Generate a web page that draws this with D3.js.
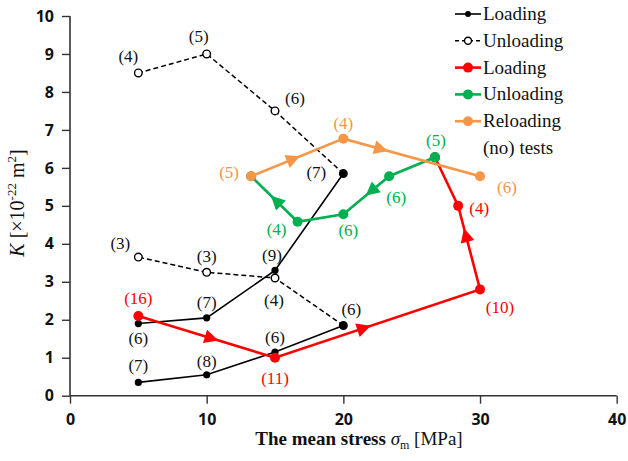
<!DOCTYPE html>
<html><head><meta charset="utf-8">
<script src="https://cdn.jsdelivr.net/npm/d3@7"></script>
<style>
body{margin:0;background:#fff;}
svg{display:block;}
text{font-family:"Liberation Serif","Times New Roman",serif;}
.tick text{font-family:"Open Sans",sans-serif;font-weight:700;}
</style></head>
<body><svg id="c" width="628" height="461"></svg>
<script>
// ---- data ----
const xTicks = [0, 10, 20, 30, 40];
const yTicks = [0, 1, 2, 3, 4, 5, 6, 7, 8, 9, 10];

const blackLoad1X = [5, 10, 15, 20];
const blackLoad1Y = [0.35, 0.55, 1.15, 1.85];
const blackLoad1N = ["(7)", "(8)", "(6)", "(6)"];

const blackLoad2X = [5, 10, 15, 20];
const blackLoad2Y = [1.9, 2.05, 3.3, 5.85];
const blackLoad2N = ["(6)", "(7)", "(9)", "(7)"];

const blackUnload1X = [20, 15, 10, 5];
const blackUnload1Y = [5.85, 7.5, 9.0, 8.5];
const blackUnload1N = [null, "(6)", "(5)", "(4)"];

const blackUnload2X = [20, 15, 10, 5];
const blackUnload2Y = [1.85, 3.1, 3.25, 3.65];
const blackUnload2N = [null, "(4)", "(3)", "(3)"];

const redLoadX = [5, 15, 30, 28.4, 26.7];
const redLoadY = [2.1, 1.0, 2.8, 5.0, 6.28];
const redLoadN = ["(16)", "(11)", "(10)", "(4)", null];

const greenUnloadX = [26.7, 23.35, 20, 16.65, 13.25];
const greenUnloadY = [6.28, 5.78, 4.78, 4.58, 5.78];
const greenUnloadN = ["(5)", "(6)", "(6)", "(4)", null];

const orangeReloadX = [13.25, 20, 30];
const orangeReloadY = [5.78, 6.77, 5.78];
const orangeReloadN = ["(5)", "(4)", "(6)"];

const legendLabels = ["Loading", "Unloading", "Loading", "Unloading", "Reloading", "(no) tests"];

// ---- layout / style ----
const svg = d3.select("#c");
const x = d3.scaleLinear().domain([0, 40]).range([70, 616.7]);
const y = d3.scaleLinear().domain([0, 10]).range([395.7, 16]);
const C = {black:"#000", red:"#ff0000", green:"#00b050", orange:"#f79646"};

// axes
const axisColor = "#333";
const gx = svg.append("g").attr("transform", "translate(0,395.7)")
  .call(d3.axisBottom(x).tickValues(xTicks).tickSize(8).tickPadding(10));
const gy = svg.append("g").attr("transform", "translate(70,0)")
  .call(d3.axisLeft(y).tickValues(yTicks).tickSize(8).tickPadding(8));
[gx, gy].forEach(g => {
  g.select(".domain").attr("stroke", axisColor).attr("stroke-width", 1.6);
  g.selectAll(".tick line").attr("stroke", axisColor).attr("stroke-width", 1.4);
  g.selectAll(".tick text").attr("fill", "#111").attr("font-size", 16);
});
gy.select(".domain").attr("d", "M0,16V395.7");
gx.select(".domain").attr("d", "M70,0H616.7");

// axis titles
const xt = svg.append("text").attr("x", 359).attr("y", 445).attr("text-anchor", "middle")
  .attr("font-size", 19).attr("fill", "#111");
xt.append("tspan").attr("font-weight", 700).text("The mean stress ");
xt.append("tspan").attr("font-style", "italic").text("σ");
xt.append("tspan").attr("font-size", 12).attr("dy", 4).text("m");
xt.append("tspan").attr("dy", -4).text(" [MPa]");

const yt = svg.append("text").attr("transform", "translate(24,203) rotate(-90)")
  .attr("text-anchor", "middle").attr("font-size", 20).attr("fill", "#111");
yt.append("tspan").attr("font-style", "italic").text("K");
yt.append("tspan").text(" [×10");
yt.append("tspan").attr("font-size", 13).attr("dy", -8).text("-22");
yt.append("tspan").attr("dy", 8).text(" m");
yt.append("tspan").attr("font-size", 13).attr("dy", -8).text("2");
yt.append("tspan").attr("dy", 8).text("]");

const line = d3.line().x(d => x(d[0])).y(d => y(d[1]));
function pts(xs, ys){ return xs.map((v,i)=>[v, ys[i]]); }

function series(xs, ys, color, opts){
  const p = pts(xs, ys);
  svg.append("path").attr("d", line(p)).attr("fill", "none").attr("stroke", color)
    .attr("stroke-width", opts.w).attr("stroke-dasharray", opts.dash || null);
  svg.selectAll(null).data(p).enter().append("circle")
    .attr("cx", d => x(d[0])).attr("cy", d => y(d[1])).attr("r", opts.r)
    .attr("fill", opts.open ? "#fff" : color).attr("stroke", color)
    .attr("stroke-width", opts.open ? 1.4 : 0);
  return p;
}

function labels(xs, ys, names, color, offs){
  names.forEach((n, i) => {
    if (!n) return;
    svg.append("text").attr("x", x(xs[i]) + offs[i][0]).attr("y", y(ys[i]) + offs[i][1] + 6)
      .attr("text-anchor", "middle").attr("font-size", 17).attr("fill", color).text(n);
  });
}

function arrow(xs, ys, seg, t, color){
  const x0 = x(xs[seg]), y0 = y(ys[seg]), x1 = x(xs[seg+1]), y1 = y(ys[seg+1]);
  const px = x0 + (x1-x0)*t, py = y0 + (y1-y0)*t;
  const a = Math.atan2(y1-y0, x1-x0) * 180 / Math.PI;
  svg.append("path").attr("d", "M8,0L-6,-7L-6,7Z").attr("fill", color)
    .attr("transform", `translate(${px},${py}) rotate(${a})`);
}

// black
series(blackUnload1X, blackUnload1Y, C.black, {w:1.5, r:3.8, open:true, dash:"5,3"});
series(blackUnload2X, blackUnload2Y, C.black, {w:1.5, r:3.8, open:true, dash:"5,3"});
series(blackLoad1X, blackLoad1Y, C.black, {w:1.6, r:3.6});
series(blackLoad2X, blackLoad2Y, C.black, {w:1.6, r:3.6});

// colored
series(redLoadX, redLoadY, C.red, {w:2.6, r:5});
series(greenUnloadX, greenUnloadY, C.green, {w:2.6, r:5});
series(orangeReloadX, orangeReloadY, C.orange, {w:2.6, r:5});
// redraw the shared red/green point on top
svg.append("circle").attr("cx", x(greenUnloadX[0])).attr("cy", y(greenUnloadY[0])).attr("r", 5).attr("fill", C.green);

arrow(redLoadX, redLoadY, 0, 0.53, C.red);
arrow(redLoadX, redLoadY, 1, 0.43, C.red);
arrow(redLoadX, redLoadY, 2, 0.64, C.red);
arrow(greenUnloadX, greenUnloadY, 1, 0.38, C.green);
arrow(greenUnloadX, greenUnloadY, 3, 0.45, C.green);
arrow(orangeReloadX, orangeReloadY, 0, 0.45, C.orange);
arrow(orangeReloadX, orangeReloadY, 1, 0.27, C.orange);

// labels
labels(blackLoad1X, blackLoad1Y, blackLoad1N, "#111", [[0,-17],[0,-14],[0,-15],[8,-16]]);
labels(blackLoad2X, blackLoad2Y, blackLoad2N, "#111", [[0,14],[0,-16],[-3,-15],[-27,-2]]);
labels(blackUnload1X, blackUnload1Y, blackUnload1N, "#111", [null,[20,-13],[-8,-18],[-10,-17]]);
labels(blackUnload2X, blackUnload2Y, blackUnload2N, "#111", [null,[-1,22],[0,-16],[-18,-14]]);
labels(redLoadX, redLoadY, redLoadN, C.red, [[0,-18],[0,20],[20,18],[21,2],null]);
labels(greenUnloadX, greenUnloadY, greenUnloadN, C.green, [[1,-17],[7,21],[5,16],[-21,7],null]);
labels(orangeReloadX, orangeReloadY, orangeReloadN, C.orange, [[-22,-4],[0,-16],[27,11]]);

// legend
const legStyles = [
  {c:C.black, w:1.6, r:3, open:false, dash:null},
  {c:C.black, w:1.5, r:3.5, open:true, dash:"4,3"},
  {c:C.red, w:2.6, r:5, open:false, dash:null},
  {c:C.green, w:2.6, r:5, open:false, dash:null},
  {c:C.orange, w:2.6, r:5, open:false, dash:null},
  null
];
legendLabels.forEach((lab, i) => {
  const cy = 14 + i * 26.8;
  const s = legStyles[i];
  if (s) {
    svg.append("line").attr("x1", 455).attr("x2", 481).attr("y1", cy).attr("y2", cy)
      .attr("stroke", s.c).attr("stroke-width", s.w).attr("stroke-dasharray", s.dash);
    svg.append("circle").attr("cx", 468).attr("cy", cy).attr("r", s.r)
      .attr("fill", s.open ? "#fff" : s.c).attr("stroke", s.c).attr("stroke-width", s.open ? 1.4 : 0);
  }
  svg.append("text").attr("x", 483).attr("y", cy + 6).attr("font-size", 19).attr("fill", "#111").text(lab);
});
</script></body></html>
